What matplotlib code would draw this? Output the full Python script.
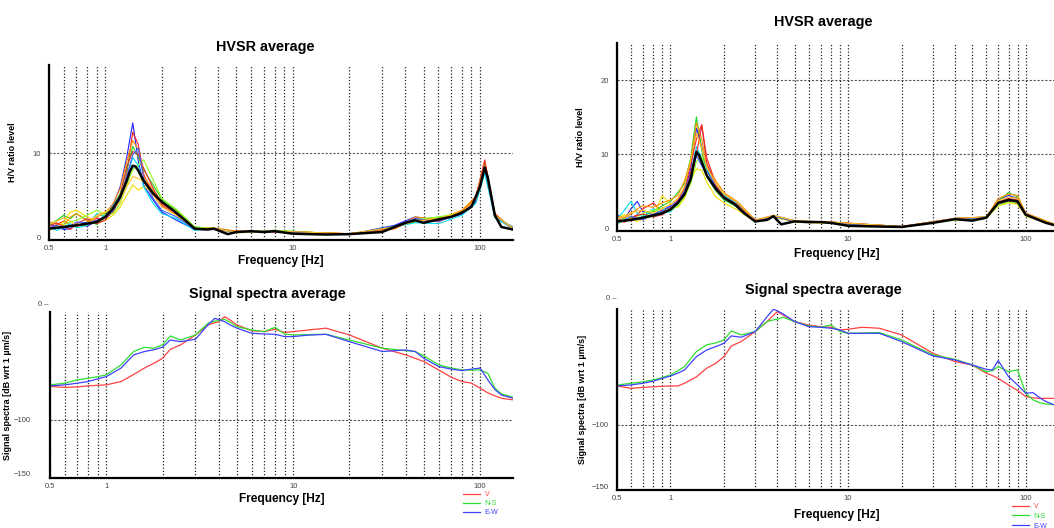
import numpy as np
import matplotlib
matplotlib.use('Agg')
import matplotlib.pyplot as plt
from matplotlib.ticker import FixedLocator, NullFormatter
import matplotlib.transforms as mtransforms

plt.rcParams['font.family'] = ['Liberation Sans', 'DejaVu Sans']

# ---------------- data ----------------
# HVSR left: average curve
hv1_f = [0.5, 0.6, 0.7, 0.8, 0.9, 1.0, 1.1, 1.2, 1.3, 1.35, 1.4, 1.45, 1.5, 1.6, 1.8, 2.0, 2.3, 2.6,
         3.0, 3.5, 3.8, 4.0, 4.5, 5, 6, 7, 8, 10, 15, 20, 30, 35, 40, 45, 50, 60, 70, 80, 90, 100,
         106, 110, 120, 130, 150]
hv1_mean = [1.0, 1.2, 1.4, 1.6, 1.8, 2.4, 3.4, 4.8, 6.7, 7.8, 8.5, 8.4, 7.9, 6.7, 5.2, 4.2, 3.2, 2.2,
            1.0, 0.9, 1.0, 0.8, 0.35, 0.6, 0.7, 0.6, 0.7, 0.4, 0.3, 0.35, 0.6, 1.2, 1.7, 2.0, 1.7,
            2.1, 2.4, 2.9, 3.6, 6.0, 8.3, 7.1, 2.6, 1.2, 0.9]
# HVSR left: single windows
hv1_wf = [0.5, 0.55, 0.6, 0.65, 0.7, 0.8, 0.9, 1.0, 1.1, 1.2, 1.3, 1.4, 1.5, 1.6, 1.8, 2.0, 2.4, 3.0,
          3.8, 5, 8, 20, 35, 45, 60, 80, 95, 106, 120, 150]
hv1_w1 = [1.6, 1.2, 0.9, 1.0, 1.5, 1.3, 1.9, 2.6, 3.8, 6.0, 9.5, 13.6, 9.0, 6.2, 4.4, 3.0, 2.0, 0.9, 0.9, 0.6, 0.7, 0.3, 1.4, 2.4, 2.0, 2.7, 4.2, 8.0, 2.4, 1.2]
hv1_w2 = [1.0, 1.5, 1.9, 1.4, 1.2, 1.8, 2.2, 2.2, 3.0, 4.5, 7.5, 12.5, 11.0, 7.5, 5.0, 3.8, 2.6, 1.1, 1.0, 0.7, 0.6, 0.4, 1.0, 2.2, 1.8, 3.1, 4.8, 9.2, 2.8, 0.9]
hv1_w3 = [1.4, 2.0, 2.6, 2.2, 2.8, 2.0, 1.5, 2.8, 3.6, 5.2, 8.0, 10.8, 9.5, 8.0, 6.2, 4.5, 3.2, 1.2, 1.0, 0.6, 0.8, 0.3, 1.3, 1.8, 2.3, 2.8, 4.4, 8.4, 2.6, 1.0]
hv1_w4 = [0.8, 1.3, 1.8, 3.0, 3.2, 2.4, 1.8, 2.0, 2.6, 3.6, 5.0, 6.2, 5.6, 6.0, 5.5, 4.0, 2.8, 1.0, 1.0, 0.5, 0.7, 0.4, 1.1, 2.0, 2.2, 3.0, 4.6, 8.8, 2.5, 1.1]
hv1_w5 = [1.2, 0.8, 1.2, 1.6, 1.1, 1.4, 2.8, 2.4, 3.2, 4.4, 7.0, 9.5, 8.5, 6.0, 4.0, 2.8, 2.2, 0.8, 1.0, 0.6, 0.7, 0.3, 1.2, 1.7, 1.6, 2.6, 4.0, 7.6, 2.3, 1.0]
hv1_w6 = [1.8, 1.6, 1.4, 2.4, 2.8, 1.9, 2.4, 2.9, 4.0, 5.8, 9.0, 11.5, 10.4, 7.2, 5.6, 4.2, 3.0, 1.1, 1.1, 0.7, 0.7, 0.4, 1.0, 2.4, 2.1, 3.2, 4.8, 9.0, 2.7, 1.0]
hv1_w7 = [0.9, 1.1, 1.5, 1.8, 2.0, 2.6, 3.2, 2.6, 2.8, 4.0, 6.2, 8.0, 8.6, 9.2, 6.8, 4.6, 3.3, 1.2, 1.0, 0.6, 0.8, 0.3, 1.2, 2.1, 2.4, 2.9, 4.4, 8.6, 2.6, 1.1]
hv1_w8 = [1.3, 1.7, 1.2, 0.9, 1.6, 2.2, 1.6, 2.0, 3.4, 5.0, 8.4, 10.2, 9.8, 8.2, 5.8, 4.0, 2.8, 1.0, 1.0, 0.6, 0.7, 0.4, 1.1, 2.0, 2.0, 2.9, 4.6, 9.0, 2.6, 1.0]
hv1_w9 = [1.1, 1.4, 1.0, 1.3, 1.8, 1.7, 2.0, 2.3, 3.2, 4.6, 7.2, 9.8, 10.6, 7.0, 4.6, 3.2, 2.4, 0.9, 1.0, 0.6, 0.7, 0.3, 1.3, 2.2, 1.9, 2.8, 4.3, 8.2, 2.5, 1.0]
hv1_w10 = [1.5, 1.9, 2.3, 1.9, 1.3, 1.5, 2.6, 3.0, 3.4, 4.2, 6.0, 7.2, 7.0, 6.6, 5.0, 3.6, 2.6, 1.0, 1.0, 0.6, 0.7, 0.4, 1.2, 1.9, 2.2, 3.0, 4.5, 8.5, 2.6, 1.0]
hv1_windows = [hv1_w1, hv1_w2, hv1_w3, hv1_w4, hv1_w5, hv1_w6, hv1_w7, hv1_w8, hv1_w9, hv1_w10]

# HVSR right: average curve
hv2_f = [0.5, 0.6, 0.7, 0.8, 0.9, 1.0, 1.1, 1.2, 1.3, 1.35, 1.4, 1.45, 1.5, 1.6, 1.8, 2.0, 2.3, 2.6,
         3.0, 3.5, 3.8, 4.2, 5, 6, 7, 8, 10, 15, 20, 30, 40, 50, 60, 70, 80, 90, 100, 110, 130, 150]
hv2_mean = [0.9, 1.1, 1.4, 1.7, 2.0, 2.5, 3.4, 4.6, 6.6, 8.6, 10.3, 9.8, 8.9, 7.1, 5.3, 4.1, 3.2, 2.0,
            0.9, 1.1, 1.6, 0.5, 0.9, 0.8, 0.8, 0.7, 0.3, 0.2, 0.15, 0.7, 1.2, 1.0, 1.4, 3.4, 3.8,
            3.6, 1.8, 1.4, 0.7, 0.3]
# HVSR right: single windows
hv2_wf = [0.5, 0.55, 0.6, 0.65, 0.7, 0.8, 0.9, 1.0, 1.1, 1.2, 1.3, 1.4, 1.5, 1.6, 1.8, 2.0, 2.4, 3.0,
          3.8, 5, 8, 20, 40, 60, 70, 80, 90, 100, 120, 150]
hv2_w1 = [1.8, 1.2, 2.6, 3.6, 2.2, 1.8, 2.4, 3.0, 3.6, 5.0, 8.0, 13.5, 11.0, 7.8, 5.6, 4.3, 3.2, 1.0, 1.7, 1.0, 0.8, 0.2, 1.3, 1.5, 3.8, 4.4, 4.0, 2.0, 1.2, 0.4]
hv2_w2 = [1.0, 0.8, 1.4, 1.8, 2.6, 3.4, 2.2, 2.8, 3.8, 5.4, 8.6, 12.0, 14.0, 9.5, 6.0, 4.5, 3.3, 1.0, 1.6, 0.9, 0.7, 0.2, 1.2, 1.3, 3.2, 3.6, 3.3, 1.7, 1.1, 0.3]
hv2_w3 = [0.6, 1.0, 1.5, 1.2, 1.6, 2.2, 3.0, 3.6, 4.8, 6.0, 9.5, 15.0, 10.5, 7.0, 5.0, 3.8, 2.8, 0.8, 1.5, 0.9, 0.7, 0.1, 1.2, 1.4, 3.6, 4.8, 4.2, 1.9, 1.2, 0.3]
hv2_w4 = [1.4, 1.8, 1.3, 0.9, 1.2, 1.6, 4.4, 3.2, 2.8, 4.0, 6.5, 8.0, 7.8, 6.2, 4.2, 3.4, 2.4, 0.8, 1.5, 0.8, 0.6, 0.1, 1.1, 1.3, 3.0, 3.4, 3.2, 1.6, 1.0, 0.3]
hv2_w5 = [1.2, 2.4, 3.6, 2.0, 1.5, 2.6, 2.0, 2.2, 3.2, 4.8, 7.2, 11.0, 9.4, 8.0, 6.0, 4.4, 3.2, 0.9, 1.6, 0.9, 0.7, 0.2, 1.2, 1.5, 3.4, 3.9, 3.7, 1.8, 1.1, 0.3]
hv2_w6 = [1.6, 1.4, 1.9, 2.6, 3.0, 2.8, 3.4, 3.8, 4.4, 6.4, 9.0, 14.2, 12.0, 8.4, 6.4, 4.8, 3.5, 1.1, 1.7, 1.0, 0.8, 0.2, 1.3, 1.5, 4.0, 4.6, 4.4, 2.0, 1.3, 0.4]
hv2_w7 = [0.9, 1.3, 1.1, 1.5, 2.0, 2.4, 2.6, 2.4, 3.0, 4.2, 6.0, 9.0, 9.6, 7.4, 5.2, 4.0, 3.0, 0.9, 1.5, 0.9, 0.7, 0.2, 1.1, 1.3, 3.1, 3.5, 3.4, 1.7, 1.1, 0.3]
hv2_w8 = [1.3, 0.9, 1.2, 1.7, 1.9, 1.5, 1.8, 2.6, 3.4, 4.4, 7.6, 10.0, 13.8, 8.8, 5.8, 4.2, 3.1, 1.0, 1.6, 0.9, 0.8, 0.2, 1.3, 1.4, 3.5, 4.0, 3.8, 1.8, 1.1, 0.3]
hv2_w9 = [0.7, 1.1, 1.6, 1.3, 1.1, 1.9, 2.3, 2.9, 3.6, 4.6, 7.0, 9.8, 8.4, 7.2, 5.2, 4.0, 2.9, 0.8, 1.6, 0.9, 0.7, 0.1, 1.2, 1.4, 3.3, 3.7, 3.5, 1.8, 1.0, 0.3]
hv2_w10 = [1.1, 1.6, 2.1, 2.3, 2.4, 2.0, 2.7, 3.2, 4.0, 5.6, 9.2, 12.8, 10.8, 8.2, 6.0, 4.6, 3.4, 1.0, 1.7, 1.0, 0.8, 0.2, 1.3, 1.5, 3.7, 4.2, 4.0, 1.9, 1.2, 0.4]
hv2_windows = [hv2_w1, hv2_w2, hv2_w3, hv2_w4, hv2_w5, hv2_w6, hv2_w7, hv2_w8, hv2_w9, hv2_w10]

win_colors = ['#2020ff', '#ff2020', '#20d020', '#f0e000', '#00e0f0',
              '#ff9000', '#90ff20', '#e03030', '#4060ff', '#ffc020']

# Signal spectra left
sp1_f = [0.5, 0.6, 0.7, 0.8, 0.9, 1.0, 1.2, 1.4, 1.6, 1.8, 2.0, 2.2, 2.5, 3.0, 3.5, 3.8, 4.0, 4.3,
         4.6, 5, 6, 7, 8, 9, 10, 12, 15, 20, 30, 40, 45, 50, 60, 70, 80, 90, 100, 110, 120, 130, 150]
sp1_v = [-69, -70, -69.5, -68.5, -68, -67.6, -64.5, -58, -52, -47.5, -43, -34.6, -30.5, -21.3, -12,
         -10, -9, -4.3, -7.4, -12, -17.3, -18.2, -16, -19, -18.2, -16.7, -15, -21.3, -33.6, -39.8,
         -43, -46, -53.7, -60.5, -64.5, -66, -70.7, -75, -77.8, -80, -81.5]
sp1_ns = [-67.6, -66, -63, -61.4, -60, -58.3, -49, -36.7, -32.7, -33.6, -30.5, -22.2, -26, -21.3,
          -10.5, -8.5, -8, -6.8, -9.5, -13.6, -16.7, -18.2, -14.2, -20.4, -21.3, -21, -20.7, -26,
          -33.6, -35.8, -36.7, -40.7, -49, -52, -53.7, -54, -53.7, -56.8, -70.7, -76, -79]
sp1_ew = [-68.5, -67.6, -66, -64.5, -62, -60, -52, -39.8, -36.7, -35, -32.7, -26, -27.5, -25.3,
          -12, -5.9, -7, -9, -12, -15, -19.7, -20.4, -20.7, -22.8, -22.8, -21.5, -20.7, -27.5,
          -36.7, -35.2, -36.7, -43, -50.6, -53, -54.3, -53, -52, -63, -72, -77, -80]

# Signal spectra right
sp2_f = [0.5, 0.6, 0.7, 0.8, 0.9, 1.0, 1.1, 1.2, 1.4, 1.6, 1.8, 2.0, 2.2, 2.5, 3.0, 3.5, 3.8, 4.0,
         4.3, 5, 6, 7, 8, 9, 10, 12, 15, 20, 30, 40, 50, 60, 65, 70, 80, 90, 100, 110, 120, 130, 150]
sp2_v = [-68.4, -70.3, -69.5, -69, -68.6, -68.4, -68.4, -66.2, -61, -54, -50, -44.6, -36, -32.4,
         -24.3, -16.2, -11, -8.1, -10.8, -16.2, -19, -20.3, -20.8, -23, -22.4, -20.8, -21.6, -27,
         -41.9, -48.6, -51.4, -58, -60, -62.2, -67.6, -72, -77, -78, -78.4, -78.4, -78.4]
sp2_ns = [-67.6, -66.2, -65, -63.5, -61.5, -59.5, -56, -52.7, -40.5, -35, -33.5, -31.1, -23.8, -27,
          -24.3, -16.2, -14.8, -14.3, -12.7, -16.2, -19.7, -20.8, -18.9, -24.3, -25.7, -25.5,
          -25.1, -31.1, -43.2, -46.8, -51.4, -56.8, -56, -52.7, -56.8, -55.4, -74.3, -79.7, -82,
          -83, -83.8]
sp2_ew = [-68.4, -67.5, -66.2, -64.5, -62.2, -60.3, -58, -55.4, -44.6, -39.2, -36.5, -33.8, -27.8,
          -28.9, -24.3, -12.2, -6.2, -7.5, -10, -16.2, -20.3, -20.8, -21.6, -23, -25.7, -25.7,
          -25.7, -32.4, -44, -47.3, -51.4, -54.9, -55.4, -47.8, -60.8, -67.6, -74.3, -73.8, -78,
          -81, -84.6]

major_f = [0.5, 1, 10, 100]
major_lbl = ['0.5', '1', '10', '100']
minor_f = [0.6, 0.7, 0.8, 0.9, 2, 3, 4, 5, 6, 7, 8, 9, 20, 30, 40, 50, 60, 70, 80, 90]

# ---------------- figure ----------------
W, H = 1054, 528
fig = plt.figure(figsize=(W / 100, H / 100), dpi=100)


def px_axes(left, right, top, bottom):
    return fig.add_axes([left / W, 1 - bottom / H, (right - left) / W, (bottom - top) / H])


def style(ax, ylab, ypad, hlines):
    ax.set_xscale('log')
    ax.set_xlim(0.5, 150)
    ax.xaxis.set_major_locator(FixedLocator(major_f))
    ax.xaxis.set_minor_locator(FixedLocator(minor_f))
    ax.set_xticklabels(major_lbl)
    ax.xaxis.set_minor_formatter(NullFormatter())
    ax.grid(True, which='both', axis='x', color='#222222', linestyle=(0, (1, 1.6)), lw=0.9)
    for h in hlines:
        ax.axhline(h, color='#555555', linestyle=(0, (2, 1.5)), lw=0.8, zorder=0)
    for s in ['top', 'right']:
        ax.spines[s].set_visible(False)
    for s in ['left', 'bottom']:
        ax.spines[s].set_linewidth(1.6)
    ax.tick_params(which='both', length=0, labelsize=5.5, colors='#444444')
    ax.tick_params(axis='y', pad=ypad)
    ax.set_ylabel(ylab, fontsize=6.5, fontweight='bold')
    ax.set_xlabel('Frequency [Hz]', fontsize=8.6, fontweight='bold', labelpad=2)


# HVSR left
ax1 = px_axes(49, 513, 65, 240)
for w, c in zip(hv1_windows, win_colors):
    ax1.plot(hv1_wf, w, color=c, lw=0.8)
ax1.plot(hv1_f, hv1_mean, color='black', lw=1.8)
ax1.set_ylim(-0.35, 20.5)
ax1.set_yticks([0, 10])
style(ax1, 'H/V ratio level', 6, [10])
ax1.set_title('HVSR average', fontsize=10.4, fontweight='bold', x=0.466, pad=10)
ax1.yaxis.set_label_coords(-32 / 464, 0.5)

# HVSR right
ax2 = px_axes(617, 1057, 43, 231)
for w, c in zip(hv2_windows, win_colors):
    ax2.plot(hv2_wf, w, color=c, lw=0.8)
ax2.plot(hv2_f, hv2_mean, color='black', lw=1.8)
ax2.set_ylim(-0.4, 25)
ax2.set_yticks([0, 10, 20])
style(ax2, 'H/V ratio level', 6, [10, 20])
ax2.set_title('HVSR average', fontsize=10.4, fontweight='bold', x=0.468, pad=12)
ax2.yaxis.set_label_coords(-32 / 440, 0.5)
ax2.xaxis.labelpad = 4

# Spectra left
ax3 = px_axes(50, 513, 312, 478)
ax3.plot(sp1_f, sp1_v, color='#ff4040', lw=0.9, label='V')
ax3.plot(sp1_f, sp1_ns, color='#30dd30', lw=0.9, label='N-S')
ax3.plot(sp1_f, sp1_ew, color='#4040ff', lw=0.9, label='E-W')
ax3.set_ylim(-154, 0)
ax3.set_yticks([-100, -150])
style(ax3, 'Signal spectra [dB wrt 1 \u00b5m/s]', 14, [-100])
ax3.set_title('Signal spectra average', fontsize=10.4, fontweight='bold', x=0.469, pad=10)
ax3.yaxis.set_label_coords(-38 / 463, 0.5)
tr3 = mtransforms.blended_transform_factory(ax3.transAxes, ax3.transData)
ax3.text(-0.004, 6.5, '0 \u2013', transform=tr3, ha='right', va='center', fontsize=5.5,
         color='#444444', clip_on=False)
ax3.legend(loc='upper left', bbox_to_anchor=(463 / W, 1 - 491 / H), bbox_transform=fig.transFigure,
           frameon=False, borderpad=0, borderaxespad=0, labelcolor='linecolor', fontsize=5,
           handlelength=2.4, labelspacing=0.3, handletextpad=0.7)

# Spectra right
ax4 = px_axes(617, 1057, 309, 490)
ax4.plot(sp2_f, sp2_v, color='#ff4040', lw=0.9, label='V')
ax4.plot(sp2_f, sp2_ns, color='#30dd30', lw=0.9, label='N-S')
ax4.plot(sp2_f, sp2_ew, color='#4040ff', lw=0.9, label='E-W')
ax4.set_ylim(-152.7, -6)
ax4.set_yticks([-100, -150])
style(ax4, 'Signal spectra [dB wrt 1 \u00b5m/s]', 6, [-100])
ax4.set_title('Signal spectra average', fontsize=10.4, fontweight='bold', x=0.468, pad=11)
ax4.yaxis.set_label_coords(-30 / 440, 0.5)
ax4.xaxis.labelpad = 5
tr4 = mtransforms.blended_transform_factory(ax4.transAxes, ax4.transData)
ax4.text(-0.002, 2.5, '0 \u2013', transform=tr4, ha='right', va='center', fontsize=5.5,
         color='#444444', clip_on=False)
ax4.legend(loc='upper left', bbox_to_anchor=(1012 / W, 1 - 503 / H), bbox_transform=fig.transFigure,
           frameon=False, borderpad=0, borderaxespad=0, labelcolor='linecolor', fontsize=5,
           handlelength=2.4, labelspacing=0.4, handletextpad=0.7)

fig.savefig('out.png', dpi=100)
